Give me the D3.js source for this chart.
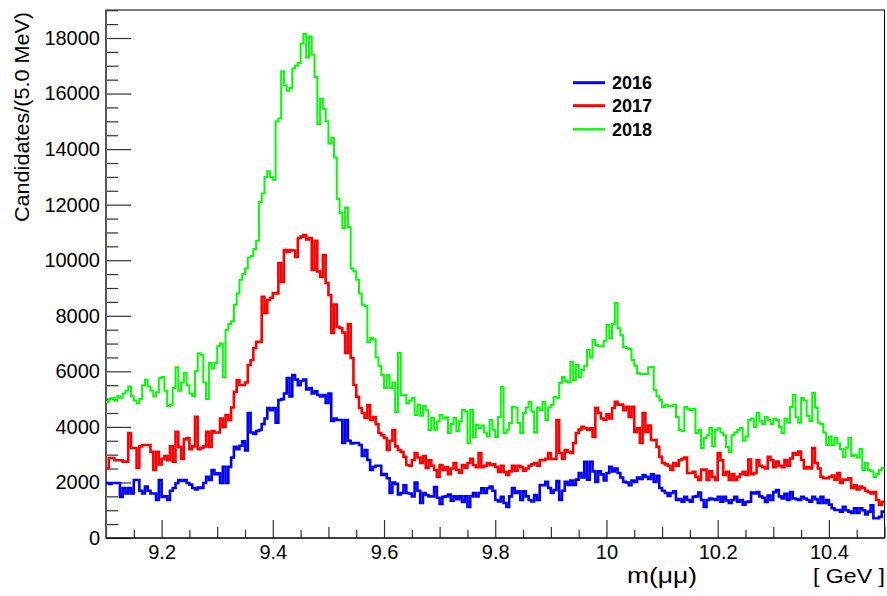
<!DOCTYPE html>
<html><head><meta charset="utf-8">
<script src="https://cdn.jsdelivr.net/npm/d3@7"></script>
<style>
html,body{margin:0;padding:0;background:#fff;}
text{font-family:"Liberation Sans",Arial,Helvetica,sans-serif;fill:#000;}
</style></head>
<body><svg id="c" width="887" height="596"></svg>
<script>
// ---- data: m(mumu) histograms, 5 MeV bins from 9.10 to 10.50 GeV (280 bins)
const binLow = 9.1, binWidth = 0.005;
const years = ["2016", "2017", "2018"];
const colors = ["#0000ff", "#ff0000", "#00ff00"];

const counts2016 = [
 1980,1950,1980,1980,1980,1480,1800,1600,1800,1600,
 2090,2090,1700,1600,1850,1700,1600,1600,1370,2090,
 1480,1500,1370,1700,1800,1970,2090,2050,2090,1980,
 1920,1800,1750,1820,1800,1980,2200,2090,2450,2300,
 2330,1980,2560,1980,2560,2900,3280,3200,3320,3480,
 3150,4500,3800,3750,3850,3890,4100,4300,4680,4600,
 4680,4150,4970,5000,5200,5760,5100,5870,5700,5500,
 5650,5700,5350,5400,5200,5280,5150,5100,5150,4860,
 5200,4210,4300,4250,4250,3420,4250,3500,3400,3420,
 3420,3350,2950,3170,2810,2450,2560,2600,2600,2270,
 2300,2150,1620,2000,1950,1570,1620,1900,1620,1600,
 1500,2000,1700,1260,1620,1550,1500,1500,1830,1450,
 1230,1480,1500,1560,1340,1500,1400,1500,1300,1500,
 1120,1500,1620,1500,1620,1790,1620,1790,1850,1700,
 1370,1320,1480,1260,1120,1500,1800,1620,1680,1370,
 1680,1500,1370,1320,1550,1370,1910,1900,2020,1800,
 1620,1730,2050,1370,1700,2020,1910,2070,1910,2100,
 2340,2180,2740,2100,2740,2400,2020,2400,2290,2070,
 2340,2560,2400,2500,2340,2180,2020,2000,1900,2070,
 2020,2180,2130,2270,2200,2130,2290,2020,2240,1800,
 1700,1620,1510,1620,1680,1370,1400,1310,1480,1370,
 1310,1480,1500,1640,1370,1120,1370,1420,1400,1370,
 1480,1310,1480,1350,1260,1370,1480,1310,1370,1200,
 1300,1310,1640,1600,1650,1500,1450,1300,1530,1370,
 1650,1730,1500,1420,1590,1370,1650,1420,1400,1370,
 1480,1420,1370,1310,1480,1400,1260,1480,1260,1370,
 1200,1070,1010,1010,950,1120,1000,950,900,1070,
 900,1070,1000,850,950,1180,710,710,760,950
];

const counts2017 = [
 2520,2880,2880,2800,2800,2800,2750,2750,3780,3240,
 3240,2520,3300,3350,3350,3350,3100,2450,3100,2650,
 2850,2950,2800,3300,2750,3820,3280,2850,3550,3600,
 3200,3300,4360,3200,3250,3300,3820,3280,3850,3800,
 3800,4300,4000,4430,4250,4700,5260,5690,5510,5510,
 5600,6230,6410,6840,7060,7060,8680,8100,8570,8650,
 8820,8800,9900,9220,10370,10300,10370,10350,10120,10800,
 10850,10910,10750,10800,9650,10700,9600,9400,10190,9180,
 8750,7380,8400,7600,7550,7400,6660,7700,6480,5510,
 5080,4680,4500,4320,4790,4250,4350,4100,3780,3700,
 3600,3170,3500,3890,3300,3170,3100,2920,2630,2600,
 2810,3060,2900,2700,2950,2520,2800,2600,2450,2200,
 2630,2450,2550,2300,2500,2700,2450,2350,2630,2530,
 2700,2850,2630,2550,3060,2550,2600,2700,2630,2650,
 2560,2380,2600,2380,2270,2400,2600,2420,2600,2550,
 2420,2500,2600,2650,2700,2600,2810,2800,2850,3060,
 2850,2850,4250,3060,2850,3170,3100,3060,3420,3780,
 3900,4000,3950,3900,3950,3640,4680,4500,4300,4250,
 4450,4300,4680,4900,4800,4800,4600,4720,4360,4720,
 3820,3950,3420,4500,3820,4050,3530,3530,3280,2920,
 2700,2650,2600,2450,2700,2600,2800,2850,2900,2340,
 2340,2380,2200,2090,2460,2460,2090,2400,2200,2090,
 3060,2800,2270,2380,2090,2300,2090,2200,2300,2380,
 2270,2820,2300,2340,2810,2600,2550,2500,2920,2810,
 2550,2750,2600,2550,2810,2600,2860,3060,3000,3110,
 2810,2500,2550,2500,3240,2700,2500,2200,2150,2150,
 2200,2250,2100,2340,1980,2100,2100,2150,1800,1900,
 1750,1850,1800,1700,1650,1600,1650,1370,1190,1300
];

const counts2018 = [
 4900,5000,5050,4950,5100,5050,5200,5300,5450,5100,
 4950,4850,5000,5500,5700,5450,5300,5100,5250,5750,
 5800,5300,4750,4800,5400,6150,5300,5600,5950,5500,
 5200,5100,6000,6650,6600,5600,5000,6300,6100,6300,
 6900,7000,5800,7500,7700,7800,8400,8800,9300,9500,
 9700,10100,10150,10400,10700,12100,12400,13000,13200,13000,
 12900,15000,15100,16800,16300,16100,16200,16900,17000,17100,
 17800,18150,17300,18050,17400,16600,14900,15800,15450,15000,
 14200,14400,13700,12200,11700,11150,11900,11200,9700,9600,
 9300,8800,8400,8350,7050,7200,7150,6500,6200,5870,
 5400,5870,5400,5600,4540,6660,5150,5150,4850,4950,
 5040,4430,4790,4400,4750,4600,3890,4320,3900,4200,
 4430,4300,4350,3780,4100,4320,3850,4200,4610,4550,
 3420,4610,3640,4070,3950,4050,3800,3650,4250,3900,
 3640,4360,5440,3780,3900,4140,4720,4700,4140,3780,
 4500,4700,4900,4550,3800,4700,4600,4900,4250,4700,
 4800,5080,5050,5580,5800,5650,5600,6340,5690,6230,
 5800,6050,6200,6770,6500,7130,6950,6900,6900,7100,
 7670,7200,7700,8460,7550,7300,6880,6840,6800,6410,
 6200,5940,5900,5900,5900,6150,6160,5330,5100,4970,
 4720,4800,4750,4750,4800,4360,3890,3850,4720,4650,
 4600,4650,3780,3900,3240,3600,3700,3960,3300,3900,
 3950,3800,3700,3280,3100,3700,3800,3900,3960,3500,
 3650,4250,4300,4000,4500,4200,4100,4360,4250,4100,
 4300,4250,4000,3780,4300,4150,4720,5150,4350,4150,
 5040,4950,4400,4200,5220,4700,4150,4100,3800,3350,
 3650,3350,3600,3400,3200,2920,3250,3600,2950,3000,
 2900,3200,2450,2700,2450,2400,2200,2300,2450,2520
];

const xTicks = [9.2, 9.4, 9.6, 9.8, 10, 10.2, 10.4];
const yTicks = [0, 2000, 4000, 6000, 8000, 10000, 12000, 14000, 16000, 18000];
const yTitle = "Candidates/(5.0 MeV)";
const xTitle = "m(μμ)";
const xUnit = "[ GeV ]";

// ---- layout
const svg = d3.select("#c");
const L = 106, R = 884.5, T = 10, B = 538;
const x = d3.scaleLinear().domain([9.1, 10.5]).range([L, R]);
const y = d3.scaleLinear().domain([0, 19008]).range([B, T]);

// frame
svg.append("rect").attr("x", L).attr("y", T).attr("width", R - L).attr("height", B - T)
  .attr("fill", "none").attr("stroke", "#000").attr("stroke-width", 1);

// y axis
const yMinor = d3.range(0, 19001, 500).filter(v => v % 2000 !== 0);
const gy = svg.append("g").attr("transform", `translate(${L},0)`);
gy.call(d3.axisLeft(y).tickValues(yTicks).tickSize(-25).tickPadding(6).tickFormat(d3.format("d")));
const gy2 = svg.append("g").attr("transform", `translate(${L},0)`);
gy2.call(d3.axisLeft(y).tickValues(yMinor).tickSize(-12).tickFormat(""));

// x axis
const x2 = d3.range(9.1, 10.51, 0.1).map(v => +v.toFixed(2)).filter(v => !xTicks.some(t => Math.abs(t - v) < 1e-6));
const x3 = d3.range(9.15, 10.5, 0.1).map(v => +v.toFixed(2));
const gx = svg.append("g").attr("transform", `translate(0,${B})`);
gx.call(d3.axisBottom(x).tickValues(xTicks).tickSize(-18).tickPadding(7).tickFormat(d => String(+d.toFixed(1))));
svg.append("g").attr("transform", `translate(0,${B})`)
  .call(d3.axisBottom(x).tickValues(x2).tickSize(-11).tickFormat(""));
svg.append("g").attr("transform", `translate(0,${B})`)
  .call(d3.axisBottom(x).tickValues(x3).tickSize(-8).tickFormat(""));

svg.selectAll(".domain").remove();
svg.selectAll(".tick line").attr("stroke", "#333").attr("stroke-width", 1.2);
svg.selectAll(".tick text").attr("font-size", 20).attr("fill", "#000")
  .style("font-family", '"Liberation Sans",Arial,Helvetica,sans-serif');
// left axis line slightly heavier
svg.append("line").attr("x1", L).attr("x2", L).attr("y1", T).attr("y2", B)
  .attr("stroke", "#555").attr("stroke-width", 1.8);
svg.append("line").attr("x1", L).attr("x2", R).attr("y1", B).attr("y2", B)
  .attr("stroke", "#000").attr("stroke-width", 1.2);

// histograms
const series = [counts2016, counts2017, counts2018];
const widths = [2.6, 2.6, 2.0];
const line = d3.line().x(d => x(d[0])).y(d => y(d[1])).curve(d3.curveStepAfter);
[2, 1, 0].forEach(k => {
  const vals = series[k];
  const pts = vals.map((v, i) => [binLow + i * binWidth, v]);
  pts.push([binLow + vals.length * binWidth, vals[vals.length - 1]]);
  svg.append("path").datum(pts).attr("d", line)
    .attr("fill", "none").attr("stroke", colors[k]).attr("stroke-width", widths[k])
    .attr("stroke-linejoin", "miter");
});

// legend
const legY = [82.7, 105.7, 129.3];
years.forEach((yr, k) => {
  svg.append("line").attr("x1", 573).attr("x2", 605).attr("y1", legY[k]).attr("y2", legY[k])
    .attr("stroke", colors[k]).attr("stroke-width", widths[k] + 0.4);
  svg.append("text").attr("x", 612).attr("y", legY[k] + 6.3).attr("font-size", 18)
    .attr("font-weight", "bold").text(yr);
});

// titles
svg.append("text").attr("transform", "translate(29,12) rotate(-90)")
  .attr("text-anchor", "end").attr("font-size", 21).attr("textLength", 210)
  .attr("lengthAdjust", "spacingAndGlyphs").text(yTitle);
svg.append("text").attr("x", 627).attr("y", 583).attr("font-size", 22)
  .attr("textLength", 70).attr("lengthAdjust", "spacingAndGlyphs").text(xTitle);
svg.append("text").attr("x", 813).attr("y", 583).attr("font-size", 21)
  .attr("textLength", 72).attr("lengthAdjust", "spacingAndGlyphs").text(xUnit);
</script></body></html>
